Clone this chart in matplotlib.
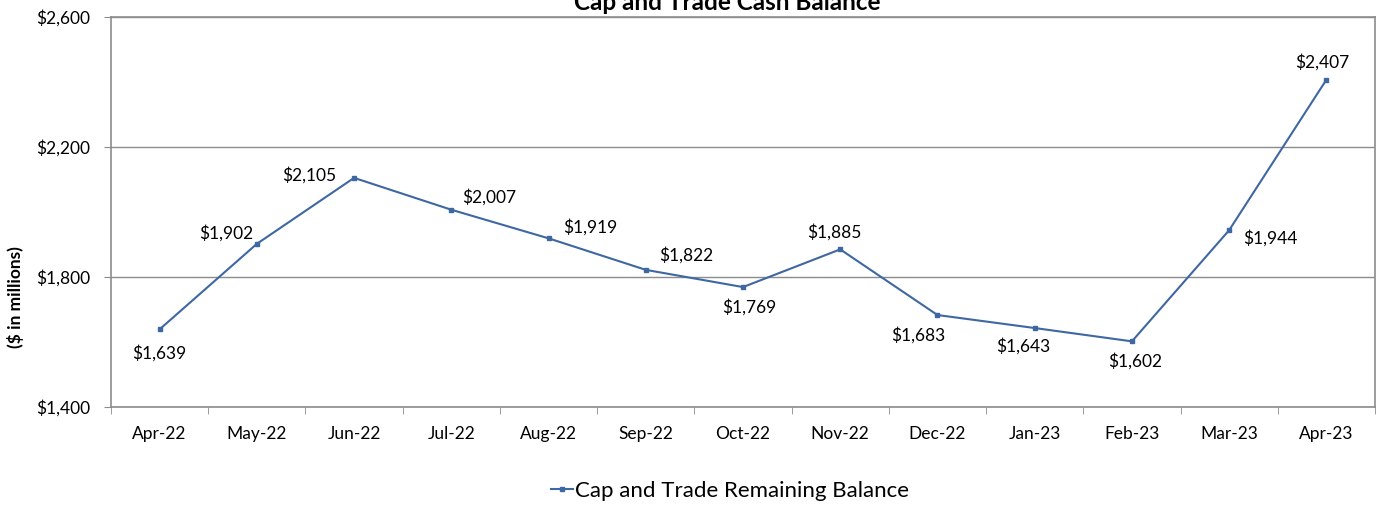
import matplotlib.pyplot as plt
from matplotlib.ticker import FuncFormatter, FixedLocator

months = ['Apr-22', 'May-22', 'Jun-22', 'Jul-22', 'Aug-22', 'Sep-22', 'Oct-22',
          'Nov-22', 'Dec-22', 'Jan-23', 'Feb-23', 'Mar-23', 'Apr-23']
balance = [1639, 1902, 2105, 2007, 1919, 1822, 1769, 1885, 1683, 1643, 1602, 1944, 2407]

# label offsets in pixels (dx, dy) relative to each point
label_offsets = [(0, -24), (-31, 11), (-45, 3), (38, 13), (42, 11), (40, 15), (6, -20),
                 (-6, 17), (-19, -20), (-11, -18), (3, -20), (41, -8), (-4, 18)]

plt.rcParams['font.family'] = ['Lato', 'DejaVu Sans']
line_color = '#3F67A2'
grid_color = '#8C8C8C'

fig = plt.figure(figsize=(13.77, 5.05), dpi=100)
ax = fig.add_axes([111 / 1377, 1 - 407 / 505, (1375 - 111) / 1377, 390 / 505])

x = list(range(len(months)))
line, = ax.plot(x, balance, color=line_color, lw=1.5, marker='s', markersize=3.5,
                markerfacecolor=line_color, markeredgecolor=line_color,
                label='Cap and Trade Remaining Balance')

for xi, v, (dx, dy) in zip(x, balance, label_offsets):
    ax.annotate(f'${v:,}', (xi, v), xytext=(dx, dy), textcoords='offset pixels',
                ha='center', va='center', fontsize=12.5, color='black')

ax.set_xlim(-0.5, len(months) - 0.5)
ax.set_ylim(1400, 2600)
ax.set_yticks([1400, 1800, 2200, 2600])
ax.yaxis.set_major_formatter(FuncFormatter(lambda v, p: f'${v:,.0f}'))
ax.set_xticks(x)
ax.set_xticklabels(months)
ax.xaxis.set_minor_locator(FixedLocator([i - 0.5 for i in range(len(months) + 1)]))
ax.tick_params(axis='x', which='major', length=0, pad=14, labelsize=12.5)
ax.tick_params(axis='x', which='minor', length=5, color=grid_color, direction='out')
ax.tick_params(axis='y', length=5, color=grid_color, labelsize=12.5, pad=10)

ax.grid(axis='y', color=grid_color, lw=1)
ax.set_axisbelow(True)
for s in ax.spines.values():
    s.set_color(grid_color)
    s.set_linewidth(1.2)

fig.text(16 / 1377, 1 - 297 / 505, '($ in millions)', rotation=90, ha='center',
         va='center', fontsize=12.5, fontweight='bold')
fig.text(727 / 1377, 1 - 2 / 505, 'Cap and Trade Cash Balance', ha='center',
         va='center', fontsize=17.5, fontweight='bold')

fig.legend(handles=[line], loc='center', bbox_to_anchor=(730 / 1377, 1 - 491 / 505),
           frameon=False, fontsize=16, handlelength=1.0, handletextpad=0.1,
           markerscale=0.8)

fig.savefig('out.png', dpi=100)
